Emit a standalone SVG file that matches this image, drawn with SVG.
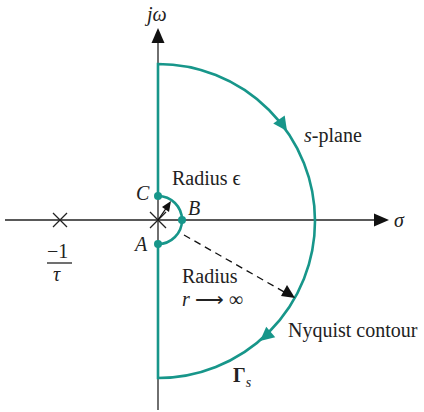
<svg xmlns="http://www.w3.org/2000/svg" width="424" height="412" viewBox="0 0 424 412">
<style>
.ax{stroke:#222;stroke-width:1.3;fill:none}
.ct{stroke:#17968a;stroke-width:2.6;fill:none}
text{font-family:"Liberation Serif","Times New Roman",serif;font-size:20px;fill:#222}
.i{font-style:italic}
.dot{fill:#17968a}
.ah{fill:#17968a}
</style>
<rect width="424" height="412" fill="#fff"/>
<g id="axes">
<line class="ax" x1="158" y1="410" x2="158" y2="42"/>
<polygon points="158,28 151.5,43 164.5,43" fill="#111"/>
<line class="ax" x1="5" y1="220" x2="376" y2="220"/>
<polygon points="389,220 374,213.5 374,226.5" fill="#111"/>
<text class="i" x="147" y="21">jω</text>
<text class="i" x="394" y="227">σ</text>
</g>
<g id="poles">
<path class="ax" d="M53,213 L67,227 M53,227 L67,213"/>
<path class="ax" d="M150,212 L166,228 M150,228 L166,212"/>
<text x="47" y="258">−1</text>
<line class="ax" x1="47" y1="263" x2="72" y2="263"/>
<text class="i" x="53" y="281">τ</text>
</g>
<g id="contour">
<path class="ct" d="M158,196 L158,64 A157,157 0 0 1 158,378 L158,244"/>
<path class="ct" d="M158,196 A24,24 0 0 1 158,244"/>
<polygon class="ah" points="0,0 -14,-7 -14,7" transform="translate(287,131) rotate(55)"/>
<polygon class="ah" points="0,0 -14,-7 -14,7" transform="translate(260,341) rotate(140)"/>
<circle class="dot" cx="158" cy="196" r="4"/>
<circle class="dot" cx="182" cy="220" r="4"/>
<circle class="dot" cx="158" cy="244" r="4"/>
</g>
<g id="connectors">
<line stroke="#111" stroke-width="1.3" x1="158" y1="220" x2="167" y2="207"/>
<polygon points="171,201 162,207 169,212" fill="#111"/>
<line stroke="#111" stroke-width="1.3" stroke-dasharray="7,5" x1="184" y1="235" x2="286" y2="293"/>
<polygon points="295,298 281,296 287,285" fill="#111"/>
</g>
<g id="labels">
<text class="i" x="136" y="200">C</text>
<text class="i" x="188" y="215">B</text>
<text class="i" x="135" y="251">A</text>
<text x="172" y="185">Radius ϵ</text>
<text x="182" y="283">Radius</text>
<text x="182" y="306"><tspan class="i">r</tspan> ⟶ ∞</text>
<text x="304" y="142"><tspan class="i">s</tspan>-plane</text>
<text x="288" y="337">Nyquist contour</text>
<text x="233" y="382" font-weight="bold">Γ<tspan class="i" font-weight="normal" font-size="14" dy="5">s</tspan></text>
</g>
</svg>
